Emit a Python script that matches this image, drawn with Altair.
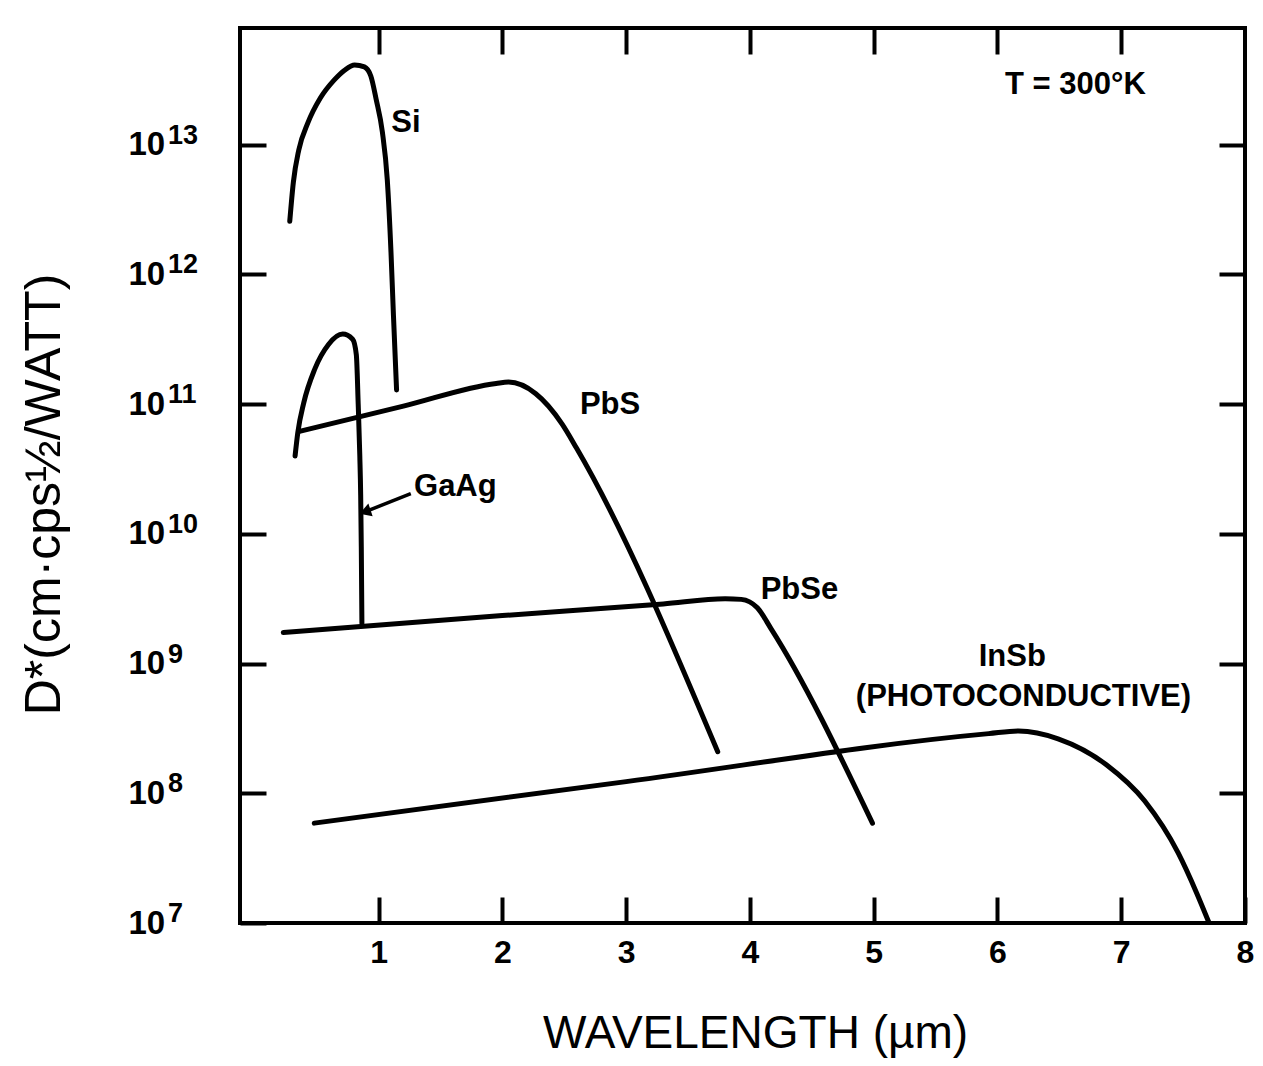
import altair as alt
import pandas as pd

# ---- curve data: wavelength (µm) and log10 of D* ----
si_x = [0.282, 0.311, 0.355, 0.429, 0.529, 0.642, 0.725, 0.806, 0.885, 0.937, 0.98, 1.03, 1.07, 1.10, 1.12, 1.145]
si_e = [12.41, 12.71, 12.96, 13.17, 13.36, 13.50, 13.575, 13.615, 13.60, 13.53, 13.35, 13.10, 12.73, 12.17, 11.68, 11.11]

gaas_x = [0.325, 0.347, 0.395, 0.484, 0.595, 0.71, 0.79, 0.82, 0.835, 0.848, 0.855, 0.86, 0.865]
gaas_e = [10.60, 10.78, 11.01, 11.27, 11.46, 11.54, 11.50, 11.38, 11.00, 10.60, 10.30, 9.90, 9.31]

pbs_x = [0.36, 1.20, 1.95, 2.05, 2.27, 2.48, 2.60, 3.74]
pbs_e = [10.79, 10.985, 11.16, 11.17, 11.08, 10.85, 10.66, 8.32]

pbse_x = [0.23, 2.00, 3.30, 3.80, 3.93, 4.06, 4.17, 4.99]
pbse_e = [9.24, 9.37, 9.46, 9.50, 9.495, 9.43, 9.27, 7.77]

insb_x = [0.48, 3.00, 5.93, 6.17, 6.49, 6.88, 7.19, 7.46, 7.61, 7.71]
insb_e = [7.77, 8.09, 8.46, 8.48, 8.42, 8.22, 7.94, 7.54, 7.23, 7.00]

# ---- labels ----
ann_text = ["Si", "PbS", "GaAg", "PbSe", "InSb", "(PHOTOCONDUCTIVE)", "T = 300°K"]
ann_x = [1.22, 2.87, 1.62, 4.40, 6.12, 6.21, 6.63]
ann_e = [13.17, 10.99, 10.36, 9.57, 9.05, 8.74, 13.46]

arrow_x = [1.26]
arrow_e = [10.31]
arrow_x2 = [0.89]
arrow_e2 = [10.17]

x_ticks = [1, 2, 3, 4, 5, 6, 7, 8]
x_ticks_top = [1, 2, 3, 4, 5, 6, 7]
y_exps = [7, 8, 9, 10, 11, 12, 13]
y_exps_right = [8, 9, 10, 11, 12, 13]
exp_text = ["7", "8", "9", "10", "11", "12", "13"]

X_DOMAIN = [-0.12, 8]
Y_DOMAIN = [1e7, 10 ** 13.9]
FONT = "Liberation Sans"

rows = []
for name, xs, es in [("Si", si_x, si_e), ("GaAs", gaas_x, gaas_e), ("PbS", pbs_x, pbs_e),
                     ("PbSe", pbse_x, pbse_e), ("InSb", insb_x, insb_e)]:
    for i, (xv, ev) in enumerate(zip(xs, es)):
        rows.append({"series": name, "idx": i, "x": xv, "d": 10 ** ev})
curves = pd.DataFrame(rows)

ann = pd.DataFrame({"text": ann_text, "x": ann_x, "d": [10 ** e for e in ann_e]})
arrow = pd.DataFrame({"x": arrow_x, "d": [10 ** e for e in arrow_e],
                      "x2": arrow_x2, "d2": [10 ** e for e in arrow_e2]})
exps = pd.DataFrame({"t": exp_text, "d": [10 ** e for e in y_exps], "x": [X_DOMAIN[0]] * len(y_exps)})

xscale = alt.Scale(domain=X_DOMAIN, nice=False, zero=False)
yscale = alt.Scale(type="log", domain=Y_DOMAIN, nice=False)

tick_common = dict(domain=False, tickSize=26, offset=-26, tickWidth=4, tickColor="black",
                   grid=False, labelOverlap=False, labelFlush=False)

x_bottom = alt.Axis(orient="bottom", values=x_ticks, labelFontSize=32, labelFont=FONT,
                    labelFontWeight="bold", labelColor="black", labelPadding=14,
                    title="WAVELENGTH (µm)",
                    titleFont=FONT, titleFontSize=46, titleFontWeight="normal", titleColor="black",
                    titleX=515, titleY=136, titleBaseline="middle", titleAnchor="middle", **tick_common)
y_left = alt.Axis(orient="left", values=[10 ** e for e in y_exps], labelExpr="'10'",
                  labelFontSize=33, labelFont=FONT, labelFontWeight="bold", labelColor="black",
                  labelAlign="left", labelPadding=112, labelBaseline="middle",
                  title="D*(cm·cps½/WATT)", titleFont=FONT, titleFontSize=50,
                  titleFontWeight="normal", titleColor="black", titleAngle=270,
                  titleX=-222, titleY=466, titleAlign="center", titleBaseline="middle",
                  **tick_common)
x_top = alt.Axis(orient="top", values=x_ticks_top, labels=False, title=None, **tick_common)
y_right = alt.Axis(orient="right", values=[10 ** e for e in y_exps_right], labels=False,
                   title=None, **tick_common)

lines = alt.Chart(curves).mark_line(color="black", strokeWidth=5, interpolate="monotone",
                                    clip=True, strokeCap="round").encode(
    x=alt.X("x:Q", scale=xscale, axis=x_bottom),
    y=alt.Y("d:Q", scale=yscale, axis=y_left),
    detail="series:N",
    order="idx:O",
)

labels = alt.Chart(ann).mark_text(font=FONT, fontSize=31, fontWeight="bold", color="black",
                                  align="center", baseline="middle").encode(
    x=alt.X("x:Q", scale=xscale, axis=x_top),
    y=alt.Y("d:Q", scale=yscale, axis=y_right),
    text="text:N",
)

exp_layer = alt.Chart(exps).mark_text(font=FONT, fontSize=27, fontWeight="bold", color="black",
                                      align="left", baseline="middle", dx=-72, dy=-9).encode(
    x=alt.X("x:Q", scale=xscale, axis=None),
    y=alt.Y("d:Q", scale=yscale, axis=None),
    text="t:N",
)

arrow_line = alt.Chart(arrow).mark_rule(color="black", strokeWidth=3.5).encode(
    x=alt.X("x:Q", scale=xscale, axis=None),
    y=alt.Y("d:Q", scale=yscale, axis=None),
    x2="x2:Q",
    y2="d2:Q",
)
arrow_head = alt.Chart(arrow).mark_point(shape="triangle-left", filled=True, color="black",
                                         size=180, opacity=1, angle=341.6).encode(
    x=alt.X("x2:Q", scale=xscale, axis=None),
    y=alt.Y("d2:Q", scale=yscale, axis=None),
)

chart = alt.layer(lines, labels, exp_layer, arrow_line, arrow_head).resolve_axis(
    x="independent", y="independent"
).properties(
    width=1005, height=895,
    autosize=alt.AutoSizeParams(type="none"),
    padding={"left": 240, "top": 28, "right": 18, "bottom": 143},
    background="white",
).configure_view(stroke="black", strokeWidth=4)

chart.save("out.html", embed_options={"renderer": "svg", "actions": False})
